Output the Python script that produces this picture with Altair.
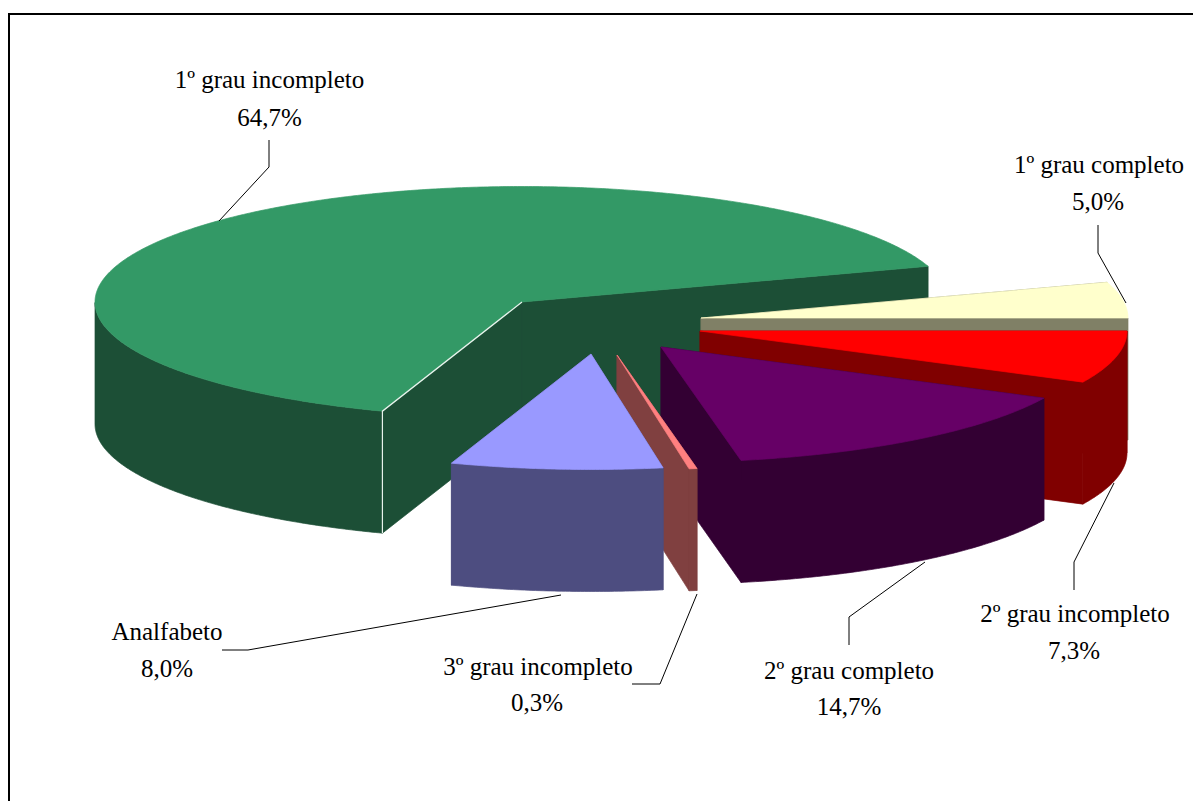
import math
import altair as alt
import pandas as pd

# ---- data ----
categories = ["1º grau incompleto", "1º grau completo", "2º grau incompleto",
              "2º grau completo", "3º grau incompleto", "Analfabeto"]
shares = [64.7, 5.0, 7.3, 14.7, 0.3, 8.0]
pct_labels = ["64,7%", "5,0%", "7,3%", "14,7%", "0,3%", "8,0%"]

# ---- styling / layout ----
top_colors = ["#339966", "#ffffcc", "#ff0000", "#660066", "#ff8080", "#9999ff"]
side_colors = ["#1c4f36", "#808066", "#800000", "#330033", "#804040", "#4d4d80"]
explode = [(0, 0), (179, 16), (178, 29), (139, 45), (95, 53), (69, 52)]
CX, CY, RX, RY, DEPTH = 522, 302, 427, 115.5, 122
START = 18
FONT = "Liberation Serif"
FS = 25

name_pos = [(269.5, 88), (1099, 173), (1075, 622), (849, 679), (538, 675), (167, 640)]
pct_pos = [(269.5, 125.5), (1098, 210), (1074, 659), (849, 715), (537, 711), (167, 677)]
leaders = [
    [(269, 140), (269, 167), (219, 221)],
    [(1098, 225), (1098, 253), (1126, 303)],
    [(1074, 590), (1074, 562), (1114, 483)],
    [(849, 645), (849, 617), (925, 562)],
    [(632, 684), (660, 684), (697, 594)],
    [(222, 650), (248, 650), (561, 595)],
]
frame = [(9, 801), (9, 14), (1193, 14)]

X = alt.X("x:Q", axis=None, scale=alt.Scale(domain=[8, 1193], nice=False, zero=False))
Y = alt.Y("y:Q", axis=None, scale=alt.Scale(domain=[801, 8], nice=False, zero=False))


def rim(c, deg):
    r = math.radians(deg)
    return (c[0] + RX * math.cos(r), c[1] - RY * math.sin(r))


def poly(points, fill, stroke=None, sw=0.7):
    pts = list(points) + [points[0]]
    df = pd.DataFrame({"x": [p[0] for p in pts], "y": [p[1] for p in pts], "i": range(len(pts))})
    return alt.Chart(df).mark_line(fill=fill, stroke=stroke or fill, strokeWidth=sw).encode(
        x=X, y=Y, order=alt.Order("i:Q"))


def path(points, color="#000000", sw=1.0):
    df = pd.DataFrame({"x": [p[0] for p in points], "y": [p[1] for p in points], "i": range(len(points))})
    return alt.Chart(df).mark_line(stroke=color, strokeWidth=sw).encode(
        x=X, y=Y, order=alt.Order("i:Q"))


def down(p, extra=0):
    return (p[0], p[1] + DEPTH + extra)


layers = []

# angular extent of every slice, clockwise from START; first slice closes the pie
ang = START
spans = {}
for k in range(1, len(shares)):
    a1 = ang - shares[k] * 3.6
    spans[k] = (ang, a1)
    ang = a1
spans[0] = (ang, START - 360)


def slice_layers(k):
    a0, a1 = spans[k]
    c = (CX + explode[k][0], CY + explode[k][1])
    steps = max(2, int(abs(a1 - a0) * 2))
    arc = [rim(c, a0 + (a1 - a0) * t / steps) for t in range(steps + 1)]
    out = []
    # straight walls (the big slice's rear wall runs a little deeper, as in the picture)
    for end in (a0, a1):
        e = rim(c, end)
        extra = 8 if (k == 0 and end == a1) else 0
        out.append(poly([c, e, down(e, extra), down(c, extra)], side_colors[k]))
    # curved wall (front half only)
    front = []
    for t in range(steps + 1):
        d = a0 + (a1 - a0) * t / steps
        if math.sin(math.radians(d)) <= 0:
            front.append(rim(c, d))
    if len(front) > 1:
        out.append(poly(front + [down(p) for p in reversed(front)], side_colors[k]))
    out.append(poly([c] + arc, top_colors[k]))
    return out


for k in range(len(shares)):
    layers += slice_layers(k)
    if k == 0:
        c = (CX, CY)
        e = rim(c, spans[0][0])
        layers.append(path([c, e, down(e)], "#e8f2ec", 1.2))

layers.append(path(frame, "#000000", 2))
for line in leaders:
    layers.append(path(line, "#000000", 1))

labels = pd.DataFrame({
    "x": [p[0] for p in name_pos] + [p[0] for p in pct_pos],
    "y": [p[1] for p in name_pos] + [p[1] for p in pct_pos],
    "t": categories + pct_labels,
})
layers.append(alt.Chart(labels).mark_text(font=FONT, fontSize=FS, color="#000000",
                                          align="center", baseline="alphabetic").encode(
    x=X, y=Y, text="t:N"))

chart = alt.layer(*layers).properties(
    width=1185, height=793, padding=0, autosize=alt.AutoSizeParams(type="none"),
    background="#ffffff"
).configure_view(stroke=None)

chart.save("out.html", embed_options={"renderer": "svg", "actions": False})
